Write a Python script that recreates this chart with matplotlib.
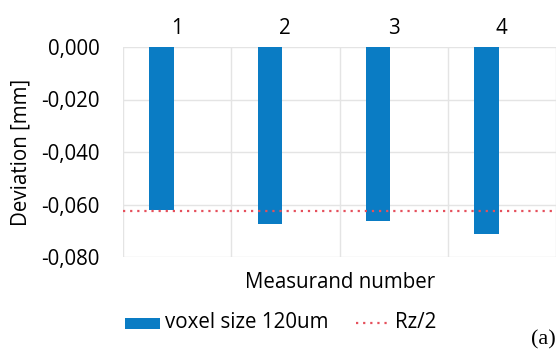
import matplotlib
matplotlib.use("Agg")
import matplotlib.pyplot as plt
from matplotlib.patches import Rectangle
from matplotlib.lines import Line2D
import numpy as np

# Deviation per measurand (mm)
measurands = ["1", "2", "3", "4"]
deviation = [-0.0621, -0.0675, -0.0664, -0.0714]
rz_half = -0.0626
y_ticks = [0.0, -0.02, -0.04, -0.06, -0.08]
y_tick_labels = ["0,000", "-0,020", "-0,040", "-0,060", "-0,080"]

bar_color = "#0a7cc4"
rz_color = "#e5505c"
grid_color = "#e4e4e4"
font = ["Open Sans", "DejaVu Sans"]
fs = 14.8
dots = (0, (1, 2.2))

W, H = 557, 354
fig = plt.figure(figsize=(W / 100, H / 100), dpi=100)
ax = fig.add_axes([123 / W, 1 - 257 / H, 433 / W, 210 / H])

x = np.arange(1, len(measurands) + 1)
ax.bar(x - 0.143, deviation, width=0.226, color=bar_color, zorder=3)
ax.axhline(rz_half, color=rz_color, linestyle=dots, linewidth=1.6, zorder=4)

ax.set_xlim(0.5, len(measurands) + 0.5)
ax.set_ylim(-0.08, 0.0)

# category labels sit along the zero line at the top
ax.xaxis.tick_top()
ax.set_xticks(x)
ax.set_xticklabels(measurands, fontsize=fs, family=font)
ax.set_xticks(np.arange(0.5, len(measurands) + 1, 1), minor=True)
ax.tick_params(axis="x", which="both", length=0, pad=6)

ax.set_yticks(y_ticks)
ax.set_yticklabels(y_tick_labels, fontsize=fs, family=font)
ax.tick_params(axis="y", length=0, pad=17)

ax.grid(axis="y", which="major", color=grid_color, linewidth=1, zorder=0)
ax.grid(axis="x", which="minor", color=grid_color, linewidth=1, zorder=0)
for s in ax.spines.values():
    s.set_visible(False)

fig.text(340 / W, 1 - 283 / H, "Measurand number", ha="center", va="center",
         fontsize=fs, family=font)
fig.text(21 / W, 1 - 152 / H, "Deviation [mm]", ha="center", va="center",
         rotation=90, fontsize=fs, family=font)

# legend row below the axis title
fig.add_artist(Rectangle((125 / W, 1 - 329 / H), 35 / W, 11 / H,
                         transform=fig.transFigure, facecolor=bar_color,
                         edgecolor="none"))
fig.text(165 / W, 1 - 323 / H, "voxel size 120um", ha="left", va="center",
         fontsize=fs, family=font)
fig.add_artist(Line2D([356 / W, 391 / W], [1 - 323 / H, 1 - 323 / H],
                      transform=fig.transFigure, color=rz_color,
                      linestyle=dots, linewidth=1.6))
fig.text(395 / W, 1 - 323 / H, "Rz/2", ha="left", va="center",
         fontsize=fs, family=font)

fig.text(543 / W, 1 - 340 / H, "(a)", ha="center", va="center",
         fontsize=16, family=["Liberation Serif", "DejaVu Serif"])

fig.savefig("out.png", dpi=100)
